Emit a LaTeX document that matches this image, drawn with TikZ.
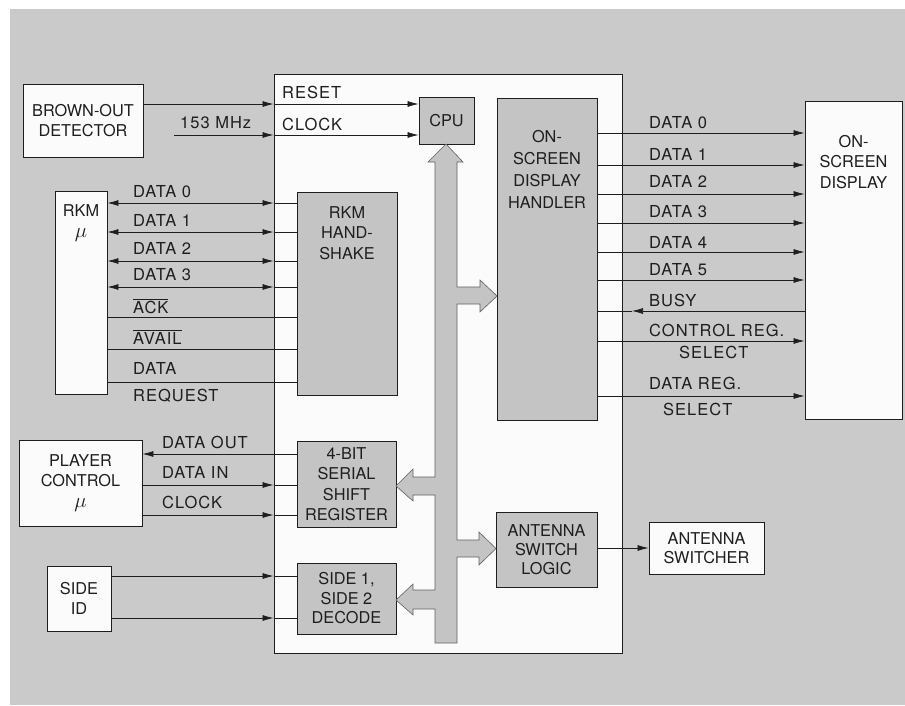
\documentclass[tikz,border=0pt]{standalone}
\usepackage{fontspec}
\setmainfont{TeX Gyre Heros}
\newfontfamily\lblfont[LetterSpace=6]{TeX Gyre Heros}
\usetikzlibrary{arrows.meta}
\definecolor{bg}{HTML}{CACACA}
\definecolor{boxg}{HTML}{C4C4C4}
\definecolor{wh}{HTML}{FBFBFB}
\definecolor{ink}{HTML}{1E1E1E}
\newcommand{\bigmu}{{\fontsize{21}{20.5}\selectfont$\mu$}}
\begin{document}
\begin{tikzpicture}[x=1pt,y=-1pt,
  every node/.style={font=\fontsize{16.3}{20.5}\selectfont, text=ink, inner sep=0pt},
  wbox/.style={draw=ink, line width=0.9pt, fill=wh, align=center},
  gbox/.style={draw=ink, line width=0.8pt, fill=boxg, align=center},
  txt/.style={align=center},
  lbl/.style={anchor=west, font=\lblfont\fontsize{16.5}{20.5}\selectfont},
  wire/.style={draw=ink, line width=0.7pt},
  tip/.style={-{Latex[length=11pt,width=6pt]}},
  tipb/.style={{Latex[length=11pt,width=6pt]}-{Latex[length=11pt,width=6pt]}}]
\useasboundingbox (0,0) rectangle (905,705);
\fill[white] (0,0) rectangle (905,705);
\fill[bg] (10,9) rectangle (905,705);

% chip
\node[wbox, minimum width=348pt, minimum height=579pt] (chip) at (448,363.5) {};
\node[gbox, minimum width=55pt, minimum height=47pt] (cpu) at (446.5,120.5) {CPU};
\node[gbox, minimum width=100pt, minimum height=322pt] (osdh) at (547,259) {};
\node[txt, font=\fontsize{16.3}{22}\selectfont] (osdhl) at (547,169) {ON-\\SCREEN\\DISPLAY\\HANDLER};
\node[gbox, minimum width=100pt, minimum height=203pt] (rkmh) at (347,293.5) {};
\node[txt] (rkmhl) at (347,233) {RKM\\HAND-\\SHAKE};
\node[gbox, minimum width=99pt, minimum height=86pt] (sr) at (346.5,484) {4-BIT\\SERIAL\\SHIFT\\REGISTER};
\node[gbox, minimum width=99pt, minimum height=71pt, font=\fontsize{16.3}{19.5}\selectfont] (dec) at (346.5,598.5) {SIDE 1,\\SIDE 2\\DECODE};
\node[gbox, minimum width=101pt, minimum height=75pt, font=\fontsize{16.3}{19}\selectfont] (asl) at (546.5,549.5) {ANTENNA\\SWITCH\\LOGIC};

% bus
\draw[draw=ink!70, line width=0.6pt, fill=boxg]
  (446,144) -- (463,162) -- (457,162) -- (457,287) -- (480,287) -- (480,280) -- (497,296)
  -- (480,312) -- (480,304) -- (457,304) -- (457,540) -- (479,540) -- (479,532) -- (496,548.5)
  -- (479,565) -- (479,557) -- (457,557) -- (457,643) -- (435,643) -- (435,609) -- (413,609)
  -- (413,615) -- (396,600) -- (413,584) -- (413,590) -- (435,590) -- (435,495) -- (413,495)
  -- (413,501) -- (396,486) -- (413,469) -- (413,477) -- (435,477) -- (435,162) -- (428,162) -- cycle;

% outer boxes
\node[wbox, minimum width=120pt, minimum height=73pt] (bod) at (83,120.5) {BROWN-OUT\\DETECTOR};
\node[wbox, minimum width=52pt, minimum height=203pt] (rkm) at (81,292.5) {};
\node[txt] (rkml) at (81,223) {RKM\\\bigmu};
\node[wbox, minimum width=123pt, minimum height=86pt] (pc) at (80.5,483) {PLAYER\\CONTROL\\\bigmu};
\node[wbox, minimum width=64pt, minimum height=65pt] (sid) at (79,598.5) {SIDE\\ID};
\node[wbox, minimum width=97pt, minimum height=318pt] (osd) at (853.5,260) {};
\node[txt] (osdl) at (853.5,162) {ON-\\SCREEN\\DISPLAY};
\node[wbox, minimum width=115pt, minimum height=52pt, font=\fontsize{16.3}{19}\selectfont] (asw) at (706.5,548) {ANTENNA\\SWITCHER};

% reset / clock
\draw[wire,tip] (bod.east|-0,104) -- (chip.west|-0,104);
\draw[wire,tip] (chip.west|-0,104) -- (cpu.west|-0,104);
\coordinate (clkin) at (174,135);
\draw[wire,tip] (clkin) -- (chip.west|-0,135);
\draw[wire,tip] (chip.west|-0,135) -- (cpu.west|-0,135);
\node[lbl] (lreset) at (282,92) {RESET};
\node[lbl] (lclock) at (282,124) {CLOCK};
\node[lbl] (lmhz) at (180,123) {153 MHz};

% RKM lines
\foreach \y in {203,232,261,287} {
  \draw[wire,tipb] (rkm.east|-0,\y) -- (chip.west|-0,\y);
  \draw[wire] (chip.west|-0,\y) -- (rkmh.west|-0,\y);
}
\foreach \y in {317,349,382} \draw[wire] (rkm.east|-0,\y) -- (rkmh.west|-0,\y);
\node[lbl] (l0) at (133,192) {DATA 0};
\node[lbl] (l1) at (133,220) {DATA 1};
\node[lbl] (l2) at (133,248) {DATA 2};
\node[lbl] (l3) at (133,275) {DATA 3};
\node[lbl] (lack) at (133,306) {$\overline{\mbox{ACK}}$};
\node[lbl] (lavail) at (133,337) {$\overline{\mbox{AVAIL}}$};
\node[lbl] (ldata) at (133,368) {DATA};
\node[lbl] (lreq) at (133,396) {REQUEST};

% player control
\draw[wire,tip] (sr.west|-0,454) -- (pc.east|-0,454);
\foreach \y in {485,515} {
  \draw[wire,tip] (pc.east|-0,\y) -- (chip.west|-0,\y);
  \draw[wire] (chip.west|-0,\y) -- (sr.west|-0,\y);
}
\node[lbl] (lout) at (162,442) {DATA OUT};
\node[lbl] (lin) at (162,472) {DATA IN};
\node[lbl] (lpclk) at (162,502) {CLOCK};

% side id
\foreach \y in {576,618} {
  \draw[wire,tip] (sid.east|-0,\y) -- (chip.west|-0,\y);
  \draw[wire] (chip.west|-0,\y) -- (dec.west|-0,\y);
}

% right side
\foreach \y in {133,165,194,223,252,280,341,396}
  \draw[wire,tip] (osdh.east|-0,\y) -- (osd.west|-0,\y);
\coordinate (busytip) at (632,311);
\draw[wire,tip] (osd.west|-0,311) -- (busytip);
\draw[wire] (busytip) -- (osdh.east|-0,311);
\node[lbl] (r0) at (649,123) {DATA 0};
\node[lbl] (r1) at (649,154) {DATA 1};
\node[lbl] (r2) at (649,181) {DATA 2};
\node[lbl] (r3) at (649,212) {DATA 3};
\node[lbl] (r4) at (649,242) {DATA 4};
\node[lbl] (r5) at (649,270) {DATA 5};
\node[lbl] (rbusy) at (649,300) {BUSY};
\node[lbl] (rcr) at (649,330) {CONTROL REG.};
\node[lbl] (rcrs) at (679,352) {SELECT};
\node[lbl] (rdr) at (649,383) {DATA REG.};
\node[lbl] (rdrs) at (663,409) {SELECT};

% antenna
\draw[wire,tip] (asl.east|-0,548) -- (asw.west|-0,548);
\end{tikzpicture}
\end{document}
